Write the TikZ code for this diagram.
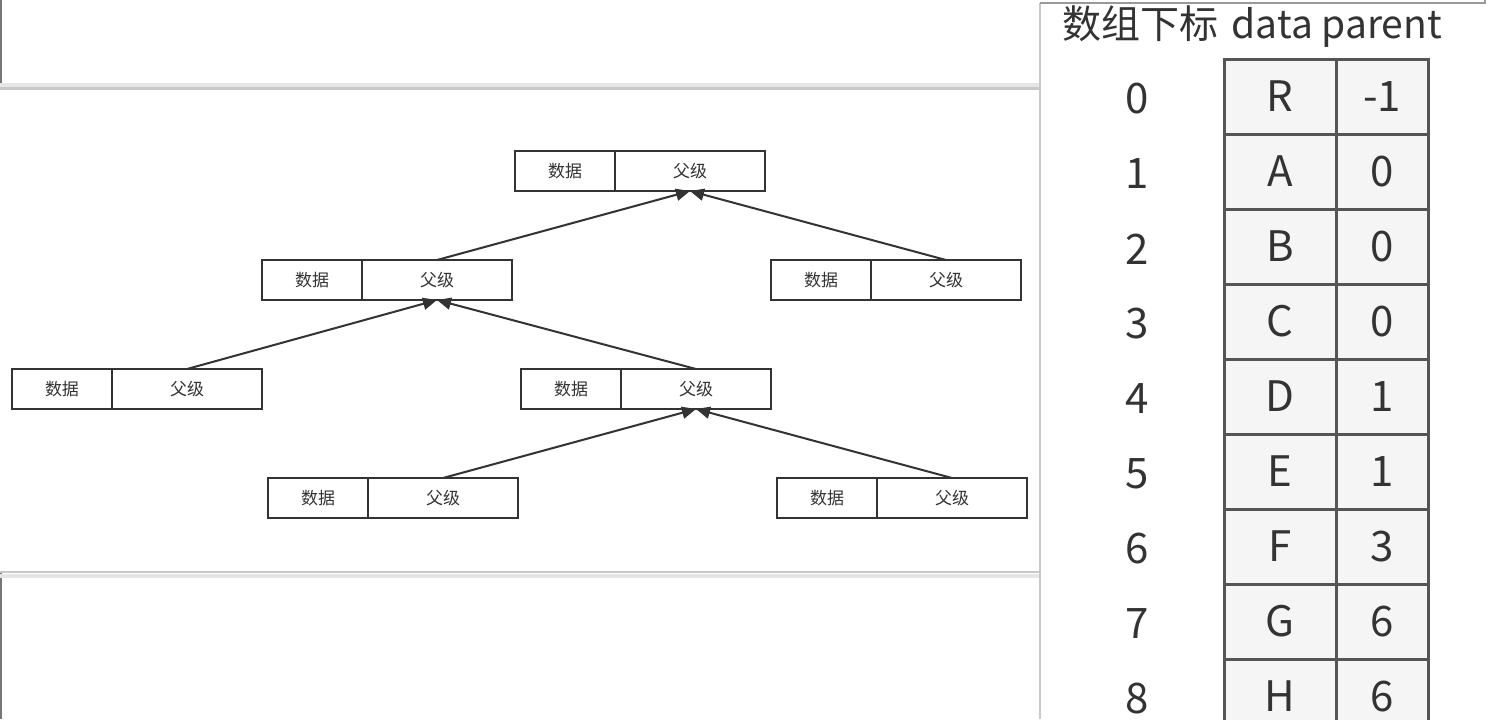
\documentclass[tikz,border=0pt]{standalone}
\usepackage{fontspec}
\setmainfont{Noto Sans CJK SC}
\usetikzlibrary{arrows.meta,positioning}
\definecolor{ink}{HTML}{333333}
\definecolor{gridline}{HTML}{555555}
\definecolor{cellgray}{HTML}{F5F5F5}
\definecolor{edgegray}{HTML}{C8C8C8}
\definecolor{framegray}{HTML}{777777}

\begin{document}
\begin{tikzpicture}[x=0.5pt,y=-0.5pt,
 dcell/.style={draw=ink,line width=1pt,outer sep=0pt,minimum width=50pt,minimum height=20pt,inner sep=0pt,font=\fontsize{8.5}{10}\selectfont,text=ink},
 pcell/.style={dcell,minimum width=75pt},
 arr/.style={-{Triangle[length=7pt,width=6pt]},line width=1pt,draw=ink},
 tcell/.style={draw=gridline,line width=1.5pt,outer sep=0pt,fill=cellgray,minimum height=37.5pt,inner sep=0pt,font=\fontsize{21}{24}\selectfont,text=ink},
 idx/.style={font=\fontsize{21}{24}\selectfont,text=ink}]
\clip (0,0) rectangle (1489,719);
\fill[white] (0,0) rectangle (1489,719);
% screenshot frame
\draw[framegray,line width=1pt] (1,0) -- (1,88);
\draw[framegray,line width=1pt] (1,572) -- (1,719);
\draw[edgegray!45,line width=2pt] (0,85) -- (1040,85);
\draw[edgegray,line width=1.2pt] (0,88.5) -- (1040,88.5);
\draw[edgegray,line width=1.2pt] (0,572) -- (1040,572);
\draw[edgegray!45,line width=2pt] (0,575.5) -- (1040,575.5);
\draw[edgegray,line width=1pt] (1040,719) -- (1040,3);
\draw[black!40,line width=0.8pt] (1040,3) -- (1485,3) -- (1485,0);

% tree of records
\node[dcell,anchor=north west] (top-d) at (515,151) {数据};
\node[pcell,right=0pt of top-d] (top-p) {父级};
\node[dcell,anchor=north west] (l2a-d) at (262,260) {数据};
\node[pcell,right=0pt of l2a-d] (l2a-p) {父级};
\node[dcell,anchor=north west] (l2b-d) at (771,260) {数据};
\node[pcell,right=0pt of l2b-d] (l2b-p) {父级};
\node[dcell,anchor=north west] (l3a-d) at (12,369) {数据};
\node[pcell,right=0pt of l3a-d] (l3a-p) {父级};
\node[dcell,anchor=north west] (l3b-d) at (521,369) {数据};
\node[pcell,right=0pt of l3b-d] (l3b-p) {父级};
\node[dcell,anchor=north west] (l4a-d) at (268,478) {数据};
\node[pcell,right=0pt of l4a-d] (l4a-p) {父级};
\node[dcell,anchor=north west] (l4b-d) at (777,478) {数据};
\node[pcell,right=0pt of l4b-d] (l4b-p) {父级};
\draw[arr] (l2a-p.north) -- (top-p.south);
\draw[arr] (l2b-p.north) -- (top-p.south);
\draw[arr] (l3a-p.north) -- (l2a-p.south);
\draw[arr] (l3b-p.north) -- (l2a-p.south);
\draw[arr] (l4a-p.north) -- (l3b-p.south);
\draw[arr] (l4b-p.north) -- (l3b-p.south);

% array table
\node[anchor=west,font=\fontsize{19.5}{22}\selectfont,text=ink] (head) at (1055,27) {数组下标\hspace{0.35em}data parent};
\foreach \d/\p [count=\i from 0] in {R/-1,A/0,B/0,C/0,D/1,E/1,F/3,G/6,H/6} {
  \node[tcell,minimum width=56pt,anchor=north west] (d\i) at (1224,{59+75*\i}) {\d};
  \node[tcell,minimum width=46pt,right=0pt of d\i] (p\i) {\p};
  \node[idx] (i\i) at (1137,{99+75*\i}) {\i};
}
\end{tikzpicture}
\end{document}
